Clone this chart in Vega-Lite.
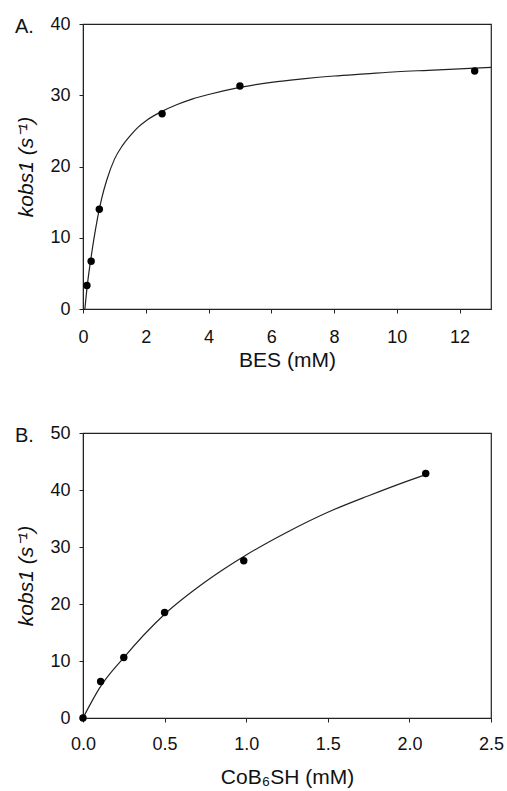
{
  "$schema": "https://vega.github.io/schema/vega-lite/v6.json",
  "background": "white",
  "padding": {"left": 14, "top": 14, "right": 10, "bottom": 3},
  "spacing": 52,
  "datasets": {
    "curveA": [
      {"x": 0.06, "y": 0}, {"x": 0.1, "y": 1.8}, {"x": 0.15, "y": 3.8}, {"x": 0.2, "y": 5.5},
      {"x": 0.25, "y": 7.0}, {"x": 0.3, "y": 8.5}, {"x": 0.4, "y": 11.2}, {"x": 0.5, "y": 13.6},
      {"x": 0.6, "y": 15.6}, {"x": 0.75, "y": 18.0}, {"x": 1.0, "y": 21.0}, {"x": 1.25, "y": 22.9},
      {"x": 1.5, "y": 24.3}, {"x": 1.75, "y": 25.5}, {"x": 2.0, "y": 26.4}, {"x": 2.5, "y": 27.7},
      {"x": 3.0, "y": 28.7}, {"x": 3.5, "y": 29.5}, {"x": 4.0, "y": 30.1}, {"x": 5.0, "y": 31.1},
      {"x": 6.0, "y": 31.8}, {"x": 7.0, "y": 32.3}, {"x": 8.0, "y": 32.7}, {"x": 9.0, "y": 33.0},
      {"x": 10.0, "y": 33.3}, {"x": 11.0, "y": 33.5}, {"x": 12.0, "y": 33.7}, {"x": 13.0, "y": 33.9}
    ],
    "pointsA": [
      {"x": 0.125, "y": 3.3}, {"x": 0.26, "y": 6.7}, {"x": 0.52, "y": 14.0},
      {"x": 2.52, "y": 27.4}, {"x": 5.0, "y": 31.3}, {"x": 12.48, "y": 33.4}
    ],
    "curveB": [
      {"x": 0, "y": 0}, {"x": 0.05, "y": 2.7}, {"x": 0.1, "y": 5.2}, {"x": 0.25, "y": 10.6},
      {"x": 0.5, "y": 18.2}, {"x": 0.75, "y": 23.9}, {"x": 1.0, "y": 28.6}, {"x": 1.25, "y": 32.6},
      {"x": 1.5, "y": 36.1}, {"x": 1.75, "y": 39.0}, {"x": 2.0, "y": 41.7}, {"x": 2.1, "y": 42.7}
    ],
    "pointsB": [
      {"x": 0, "y": 0}, {"x": 0.108, "y": 6.4}, {"x": 0.25, "y": 10.6},
      {"x": 0.5, "y": 18.5}, {"x": 0.985, "y": 27.6}, {"x": 2.1, "y": 42.9}
    ]
  },
  "config": {
    "font": "Liberation Sans",
    "view": {"stroke": "#222", "strokeWidth": 1.2},
    "axis": {
      "grid": false, "domainColor": "#222", "tickColor": "#222", "labelColor": "#111",
      "titleColor": "#111", "labelFontSize": 18, "titleFontSize": 21, "titleFontWeight": "normal",
      "tickSize": 4, "labelFont": "Liberation Sans", "titleFont": "Liberation Sans", "labelFlush": false
    },
    "axisY": {"labelPadding": 9, "titlePadding": 13, "titleFontStyle": "italic"},
    "title": {"anchor": "start", "frame": "group", "fontSize": 20, "fontWeight": "normal", "color": "#111", "baseline": "middle", "offset": 0, "dx": -68, "dy": 26, "font": "Liberation Sans"}
  },
  "vconcat": [
    {
      "width": 408, "height": 285,
      "title": {"text": "A."},
      "layer": [
        {
          "data": {"name": "curveA"},
          "mark": {"type": "line", "color": "#222", "strokeWidth": 1.2, "interpolate": "monotone"},
          "encoding": {
            "x": {"field": "x", "type": "quantitative", "scale": {"domain": [0, 13], "nice": false}, "axis": {"values": [0, 2, 4, 6, 8, 10, 12], "labelPadding": 15, "titlePadding": 3}, "title": "BES (mM)"},
            "y": {"field": "y", "type": "quantitative", "scale": {"domain": [0, 40], "nice": false}, "axis": {"values": [0, 10, 20, 30, 40]}, "title": "kobs1 (s⁻¹)"}
          }
        },
        {
          "data": {"name": "pointsA"},
          "mark": {"type": "point", "filled": true, "color": "black", "opacity": 1, "size": 55},
          "encoding": {
            "x": {"field": "x", "type": "quantitative"},
            "y": {"field": "y", "type": "quantitative"}
          }
        }
      ]
    },
    {
      "width": 408, "height": 285,
      "title": {"text": "B."},
      "layer": [
        {
          "data": {"name": "curveB"},
          "mark": {"type": "line", "color": "#222", "strokeWidth": 1.2, "interpolate": "monotone"},
          "encoding": {
            "x": {"field": "x", "type": "quantitative", "scale": {"domain": [0, 2.5], "nice": false}, "axis": {"values": [0, 0.5, 1, 1.5, 2, 2.5], "format": ".1f", "labelPadding": 13, "titlePadding": 13}, "title": "CoB₆SH (mM)"},
            "y": {"field": "y", "type": "quantitative", "scale": {"domain": [0, 50], "nice": false}, "axis": {"values": [0, 10, 20, 30, 40, 50]}, "title": "kobs1 (s⁻¹)"}
          }
        },
        {
          "data": {"name": "pointsB"},
          "mark": {"type": "point", "filled": true, "color": "black", "opacity": 1, "size": 55},
          "encoding": {
            "x": {"field": "x", "type": "quantitative"},
            "y": {"field": "y", "type": "quantitative"}
          }
        }
      ]
    }
  ]
}
